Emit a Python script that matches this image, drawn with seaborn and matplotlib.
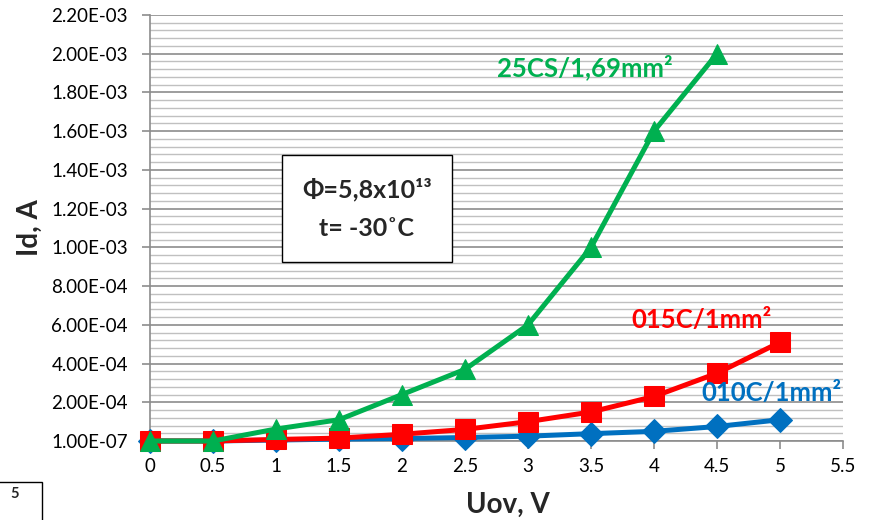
import numpy as np
import pandas as pd
import matplotlib
matplotlib.use("Agg")
import matplotlib.pyplot as plt
from matplotlib.patches import Rectangle
from matplotlib.ticker import FixedLocator
import seaborn as sns

# data
uov = [0, 0.5, 1, 1.5, 2, 2.5, 3, 3.5, 4, 4.5, 5]
id_010c = [1e-7, 1e-7, 5e-6, 1.0e-5, 1.3e-5, 1.8e-5, 2.5e-5, 3.8e-5, 5.0e-5, 7.5e-5, 1.1e-4]
id_015c = [1e-7, 1e-7, 8e-6, 1.5e-5, 3.5e-5, 6.0e-5, 1.0e-4, 1.5e-4, 2.3e-4, 3.5e-4, 5.1e-4]
id_25cs = [1e-7, 1e-7, 6.2e-5, 1.1e-4, 2.4e-4, 3.7e-4, 6.0e-4, 1.0e-3, 1.6e-3, 2.0e-3, np.nan]

series_names = ["010C/1mm²", "015C/1mm²", "25CS/1,69mm²"]
series_colors = ["#0070C0", "#FF0000", "#00B050"]
series_markers = ["D", "s", "^"]
series_msize = [12.5, 15, 15]

y_ticks = [1e-7 + k * 2e-4 for k in range(12)]
y_labels = ["1.00E-07"] + ["%.2fE-%02d" % ((v * 1e3, 3) if v >= 1e-3 else (v * 1e4, 4)) for v in y_ticks[1:]]
x_ticks = [0, 0.5, 1, 1.5, 2, 2.5, 3, 3.5, 4, 4.5, 5, 5.5]

sns.set_style("white")
plt.rcParams['font.family'] = ['Lato', 'DejaVu Sans']

fig = plt.figure(figsize=(8.7, 5.2), dpi=100)
ax = fig.add_axes([150 / 870, 1 - 441 / 520, 693 / 870, 426 / 520])

df = pd.DataFrame({"Uov": uov, series_names[0]: id_010c,
                   series_names[1]: id_015c, series_names[2]: id_25cs})

for name, col, mk, ms in zip(series_names, series_colors, series_markers, series_msize):
    sub = df[["Uov", name]].dropna()
    sns.lineplot(x=sub["Uov"], y=sub[name], ax=ax, color=col, linewidth=3.6,
                 marker=mk, markersize=ms, markeredgecolor=col, clip_on=False,
                 zorder=3)

ax.set_xlim(0, 5.5)
ax.set_ylim(1e-7, 2.2e-3 + 1e-7)
ax.set_xticks(x_ticks)
ax.set_xticklabels([("%g" % v) for v in x_ticks])
ax.yaxis.set_major_locator(FixedLocator(y_ticks))
ax.set_yticklabels(y_labels)
ax.yaxis.set_minor_locator(FixedLocator([1e-7 + k * 4e-5 for k in range(56)]))

ax.grid(which="major", axis="y", color="#8c8c8c", linewidth=1.2)
ax.grid(which="minor", axis="y", color="#c0c0c0", linewidth=1.0)
ax.grid(False, axis="x")
ax.set_axisbelow(True)

for s in ["top", "right"]:
    ax.spines[s].set_visible(False)
for s in ["left", "bottom"]:
    ax.spines[s].set_color("#8c8c8c")
    ax.spines[s].set_linewidth(1.2)
ax.tick_params(axis="both", which="major", direction="out", length=6, width=1.2,
               color="#8c8c8c", labelsize=13.5, labelcolor="black")
ax.tick_params(axis="x", pad=6)
ax.tick_params(axis="y", pad=10)
ax.tick_params(axis="y", which="minor", length=0)
ax.tick_params(axis="x", bottom=True)
ax.tick_params(axis="y", left=True)

ax.set_xlabel("")
ax.set_ylabel("")
fig.text(508 / 870, 1 - 505 / 520, "Uov, V", ha="center", va="center",
         fontsize=20, fontweight="bold")
fig.text(30 / 870, 1 - 228 / 520, "Id, A", ha="center", va="center",
         rotation=90, fontsize=20, fontweight="bold")

# curve labels
ax.text(3.45, 1.93e-3, "25CS/1,69mm²", color="#00B050", ha="center", va="center",
        fontsize=18.5, fontweight="bold")
ax.text(4.38, 6.25e-4, "015C/1mm²", color="#FF0000", ha="center", va="center",
        fontsize=18.5, fontweight="bold")
ax.text(4.93, 2.48e-4, "010C/1mm²", color="#0070C0", ha="center", va="center",
        fontsize=18.5, fontweight="bold")

# condition box
ax.add_patch(Rectangle((0.190, 0.420), 0.246, 0.251, transform=ax.transAxes,
                       facecolor="white", edgecolor="black", linewidth=1.0, zorder=4))
ax.text(0.313, 0.589, "Φ=5,8x10¹³", transform=ax.transAxes, ha="center", va="center",
        fontsize=18, fontweight="bold", zorder=5)
ax.text(0.313, 0.500, "t= -30˚C", transform=ax.transAxes, ha="center", va="center",
        fontsize=18, fontweight="bold", zorder=5)

# cut-off box at the bottom-left edge
fig.patches.append(Rectangle((-40 / 870, -0.05), 82 / 870, 0.05 + 38 / 520,
                             transform=fig.transFigure, facecolor="white",
                             edgecolor="black", linewidth=1.0))
fig.text(10 / 870, 1 - 494 / 520, "5", ha="left", va="center",
         fontsize=10.5, fontweight="bold")

fig.savefig("out.png", dpi=100)
